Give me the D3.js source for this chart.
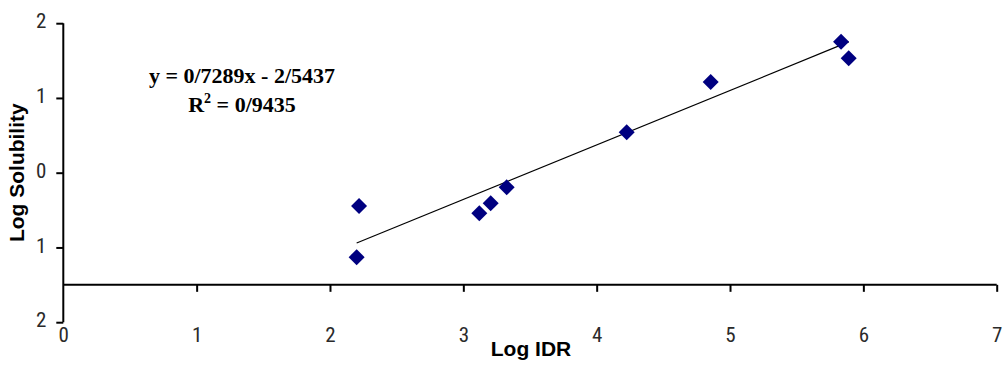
<!DOCTYPE html>
<html>
<head>
<meta charset="utf-8">
<script src="https://cdn.jsdelivr.net/npm/d3@7"></script>
<style>
  html, body { margin: 0; padding: 0; background: #fff; }
  svg { display: block; }
</style>
</head>
<body>
<svg id="chart" width="1006" height="365"></svg>
<script>
// ---- data ----
const logIDR = [2.218, 2.200, 3.120, 3.205, 3.325, 4.225, 4.855, 5.833, 5.890];
const logSolubility = [-0.445, -1.130, -0.543, -0.410, -0.196, 0.540, 1.213, 1.753, 1.530];
const xTicks = [0, 1, 2, 3, 4, 5, 6, 7];
const yTicks = [2, 1, 0, -1, -2];
const yTickLabels = ["2", "1", "0", "1", "2"];
const trendSlope = [0.7289];
const trendIntercept = [-2.5437];
const equationLine1 = "y = 0/7289x - 2/5437";
const rSquaredText = " = 0/9435";

// ---- layout ----
const svg = d3.select("#chart");
const x = d3.scaleLinear().domain([0, 7]).range([63.3, 996.7]);
const y = d3.scaleLinear().domain([-2, 2]).range([322.2, 23.2]);
const xAxisAt = -1.5;
const tickFont = "'Liberation Sans Narrow', 'Arial Narrow', 'Roboto Condensed', 'Liberation Sans', sans-serif";

// y axis
const yAxis = d3.axisLeft(y).tickValues(yTicks).tickSize(7).tickFormat((d, i) => yTickLabels[i]);
const gy = svg.append("g").attr("transform", `translate(${x(0)},0)`).call(yAxis);
gy.select(".domain").attr("stroke", "#000").attr("stroke-width", 2).attr("d", `M0,${y(2)}V${y(-2)}`);
gy.selectAll(".tick line").attr("stroke", "#000").attr("stroke-width", 2);
gy.selectAll(".tick text")
  .attr("x", -17).attr("dy", "0.32em").attr("y", -2)
  .attr("font-family", tickFont).attr("font-size", 21).attr("fill", "#2a2a2a");

// x axis (line at -1.5, labels placed low)
const xAxis = d3.axisBottom(x).tickValues(xTicks).tickSize(7).tickFormat(d3.format("d"));
const gx = svg.append("g").attr("transform", `translate(0,${y(xAxisAt)})`).call(xAxis);
gx.select(".domain").attr("stroke", "#000").attr("stroke-width", 2).attr("d", `M${x(0)},0H${x(7)}`);
gx.selectAll(".tick line").attr("stroke", "#000").attr("stroke-width", 2);
gx.selectAll(".tick text")
  .attr("y", y(-2) - y(xAxisAt) + 20).attr("dy", 0)
  .attr("font-family", tickFont).attr("font-size", 21).attr("fill", "#2a2a2a");
gx.selectAll(".tick").filter(d => d === 0).select("line").remove();

// trendline
const xs = d3.extent(logIDR);
const trend = xs.map(v => [v, trendSlope[0] * v + trendIntercept[0]]);
svg.append("path")
  .attr("d", d3.line().x(d => x(d[0])).y(d => y(d[1]))(trend))
  .attr("stroke", "#000").attr("stroke-width", 1.2).attr("fill", "none");

// points (diamonds)
const diamond = d3.symbol().type(d3.symbolSquare).size(128);
svg.append("g").selectAll("path")
  .data(logIDR.map((v, i) => [v, logSolubility[i]]))
  .join("path")
  .attr("d", diamond)
  .attr("transform", d => `translate(${x(d[0])},${y(d[1])}) rotate(45)`)
  .attr("fill", "#000080");

// equation
const serif = "'Liberation Serif', 'Times New Roman', serif";
svg.append("text")
  .attr("font-family", serif).attr("font-weight", "bold").attr("font-size", 22)
  .attr("text-anchor", "middle").attr("fill", "#000")
  .attr("x", 242).attr("y", 83).text(equationLine1);
const r = svg.append("text")
  .attr("font-family", serif).attr("font-weight", "bold").attr("font-size", 22)
  .attr("text-anchor", "middle").attr("fill", "#000")
  .attr("x", 242).attr("y", 112);
r.append("tspan").text("R");
r.append("tspan").attr("font-size", 14).attr("dy", -9).text("2");
r.append("tspan").attr("dy", 9).text(rSquaredText);

// axis titles
svg.append("text")
  .attr("transform", `translate(24,${y(0)}) rotate(-90)`)
  .attr("text-anchor", "middle")
  .attr("font-family", "'Liberation Sans', Arial, sans-serif").attr("font-weight", "bold").attr("font-size", 21)
  .text("Log Solubility");
svg.append("text")
  .attr("x", 531).attr("y", 356)
  .attr("text-anchor", "middle")
  .attr("font-family", "'Liberation Sans', Arial, sans-serif").attr("font-weight", "bold").attr("font-size", 21)
  .text("Log IDR");
</script>
</body>
</html>
